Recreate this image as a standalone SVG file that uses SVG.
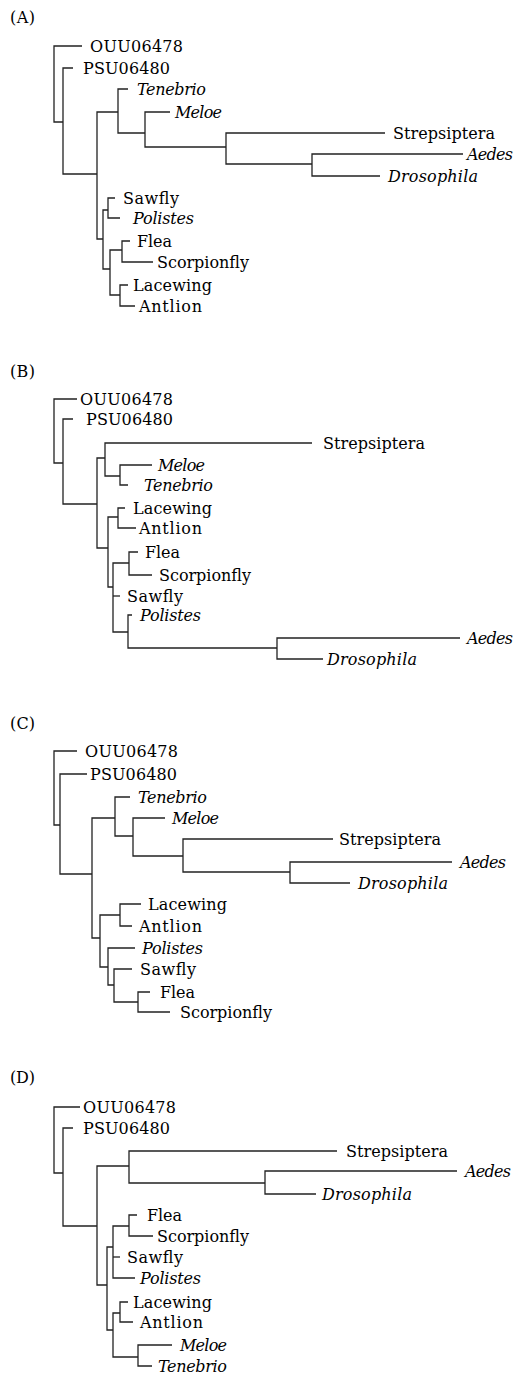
<svg xmlns="http://www.w3.org/2000/svg" width="516" height="1374" viewBox="0 0 516 1374">
<style>
.t{font-family:"DejaVu Serif","Liberation Serif",serif;font-size:16px;fill:#000}
.i{font-style:italic}
.p{font-family:"DejaVu Serif","Liberation Serif",serif;font-size:16px;fill:#000}
.c{fill:none;stroke:#222;stroke-width:1.3}
</style>
<rect width="516" height="1374" fill="#fff"/>

<!-- Panel A -->
<g id="panelA">
<text class="p" x="10" y="23" textLength="25">(A)</text>
<g id="connectorsA" class="c">
<path d="M82,46 H54 V122 H63"/>
<path d="M73,68 H63 V174 H97"/>
<path d="M118,112 H97 V239 H103"/>
<path d="M128,89 H118 V133 H145"/>
<path d="M170,112 H145 V147 H226"/>
<path d="M385,133 H226 V164 H312"/>
<path d="M463,154 H312 V176 H380"/>
<path d="M108,210 H103 V269 H110"/>
<path d="M115,198 H108 V218 H120"/>
<path d="M122,250 H110 V295 H120"/>
<path d="M130,241 H122 V262 H153"/>
<path d="M128,285 H120 V306 H135"/>
</g>
<g id="A_OUU06478"><text class="t" x="90" y="52" textLength="93">OUU06478</text></g>
<g id="A_PSU06480"><text class="t" x="83" y="74" textLength="87">PSU06480</text></g>
<g id="A_Tenebrio"><text class="t i" x="137" y="95" textLength="69">Tenebrio</text></g>
<g id="A_Meloe"><text class="t i" x="175" y="118" textLength="47">Meloe</text></g>
<g id="A_Strepsiptera"><text class="t" x="393" y="139" textLength="102">Strepsiptera</text></g>
<g id="A_Aedes"><text class="t i" x="467" y="160" textLength="46">Aedes</text></g>
<g id="A_Drosophila"><text class="t i" x="388" y="182" textLength="90">Drosophila</text></g>
<g id="A_Sawfly"><text class="t" x="123" y="204" textLength="56">Sawfly</text></g>
<g id="A_Polistes"><text class="t i" x="133" y="224" textLength="61">Polistes</text></g>
<g id="A_Flea"><text class="t" x="137" y="247" textLength="35">Flea</text></g>
<g id="A_Scorpionfly"><text class="t" x="157" y="268" textLength="92">Scorpionfly</text></g>
<g id="A_Lacewing"><text class="t" x="133" y="291" textLength="79">Lacewing</text></g>
<g id="A_Antlion"><text class="t" x="139" y="312" textLength="63">Antlion</text></g>
</g>

<!-- Panel B -->
<g id="panelB">
<text class="p" x="10" y="377" textLength="25">(B)</text>
<g id="connectorsB" class="c">
<path d="M77,399 H54 V463 H63"/>
<path d="M73,419 H63 V504 H97"/>
<path d="M105,458 H97 V548 H108"/>
<path d="M312,443 H105 V476 H120"/>
<path d="M152,465 H120 V485 H128"/>
<path d="M118,517 H108 V587 H113"/>
<path d="M125,508 H118 V528 H136"/>
<path d="M129,563 H113 V632 H128"/>
<path d="M113,596 H120"/>
<path d="M138,552 H129 V575 H152"/>
<path d="M132,615 H128 V648 H277"/>
<path d="M460,638 H277 V659 H323"/>
</g>
<g id="B_OUU06478"><text class="t" x="80" y="405" textLength="93">OUU06478</text></g>
<g id="B_PSU06480"><text class="t" x="86" y="425" textLength="87">PSU06480</text></g>
<g id="B_Strepsiptera"><text class="t" x="323" y="449" textLength="102">Strepsiptera</text></g>
<g id="B_Meloe"><text class="t i" x="158" y="471" textLength="47">Meloe</text></g>
<g id="B_Tenebrio"><text class="t i" x="144" y="491" textLength="69">Tenebrio</text></g>
<g id="B_Lacewing"><text class="t" x="133" y="514" textLength="79">Lacewing</text></g>
<g id="B_Antlion"><text class="t" x="139" y="534" textLength="63">Antlion</text></g>
<g id="B_Flea"><text class="t" x="145" y="558" textLength="35">Flea</text></g>
<g id="B_Scorpionfly"><text class="t" x="159" y="581" textLength="92">Scorpionfly</text></g>
<g id="B_Sawfly"><text class="t" x="127" y="602" textLength="56">Sawfly</text></g>
<g id="B_Polistes"><text class="t i" x="140" y="621" textLength="61">Polistes</text></g>
<g id="B_Aedes"><text class="t i" x="467" y="644" textLength="46">Aedes</text></g>
<g id="B_Drosophila"><text class="t i" x="327" y="665" textLength="90">Drosophila</text></g>
</g>

<!-- Panel C -->
<g id="panelC">
<text class="p" x="10" y="729" textLength="25">(C)</text>
<g id="connectorsC" class="c">
<path d="M77,751 H54 V825 H60"/>
<path d="M87,774 H60 V874 H92"/>
<path d="M115,818 H92 V938 H100"/>
<path d="M130,797 H115 V836 H133"/>
<path d="M165,818 H133 V856 H183"/>
<path d="M333,839 H183 V872 H290"/>
<path d="M452,862 H290 V883 H350"/>
<path d="M120,915 H100 V967 H108"/>
<path d="M141,904 H120 V926 H132"/>
<path d="M135,948 H108 V985 H114"/>
<path d="M132,969 H114 V1002 H138"/>
<path d="M150,992 H138 V1012 H170"/>
</g>
<g id="C_OUU06478"><text class="t" x="85" y="757" textLength="93">OUU06478</text></g>
<g id="C_PSU06480"><text class="t" x="90" y="780" textLength="87">PSU06480</text></g>
<g id="C_Tenebrio"><text class="t i" x="138" y="803" textLength="69">Tenebrio</text></g>
<g id="C_Meloe"><text class="t i" x="172" y="824" textLength="47">Meloe</text></g>
<g id="C_Strepsiptera"><text class="t" x="339" y="845" textLength="102">Strepsiptera</text></g>
<g id="C_Aedes"><text class="t i" x="460" y="868" textLength="46">Aedes</text></g>
<g id="C_Drosophila"><text class="t i" x="358" y="889" textLength="90">Drosophila</text></g>
<g id="C_Lacewing"><text class="t" x="148" y="910" textLength="79">Lacewing</text></g>
<g id="C_Antlion"><text class="t" x="139" y="932" textLength="63">Antlion</text></g>
<g id="C_Polistes"><text class="t i" x="142" y="954" textLength="61">Polistes</text></g>
<g id="C_Sawfly"><text class="t" x="140" y="975" textLength="56">Sawfly</text></g>
<g id="C_Flea"><text class="t" x="160" y="998" textLength="35">Flea</text></g>
<g id="C_Scorpionfly"><text class="t" x="180" y="1018" textLength="92">Scorpionfly</text></g>
</g>

<!-- Panel D -->
<g id="panelD">
<text class="p" x="10" y="1083" textLength="25">(D)</text>
<g id="connectorsD" class="c">
<path d="M80,1107 H54 V1173 H63"/>
<path d="M73,1128 H63 V1226 H97"/>
<path d="M129,1166 H97 V1285 H107"/>
<path d="M337,1151 H129 V1183 H265"/>
<path d="M457,1171 H265 V1194 H316"/>
<path d="M113,1247 H107 V1330 H113"/>
<path d="M129,1226 H113 V1278 H135"/>
<path d="M113,1257 H120"/>
<path d="M137,1215 H129 V1236 H153"/>
<path d="M120,1313 H113 V1357 H138"/>
<path d="M128,1302 H120 V1322 H133"/>
<path d="M172,1345 H138 V1366 H152"/>
</g>
<g id="D_OUU06478"><text class="t" x="83" y="1113" textLength="93">OUU06478</text></g>
<g id="D_PSU06480"><text class="t" x="83" y="1134" textLength="87">PSU06480</text></g>
<g id="D_Strepsiptera"><text class="t" x="346" y="1157" textLength="102">Strepsiptera</text></g>
<g id="D_Aedes"><text class="t i" x="465" y="1177" textLength="46">Aedes</text></g>
<g id="D_Drosophila"><text class="t i" x="322" y="1200" textLength="90">Drosophila</text></g>
<g id="D_Flea"><text class="t" x="147" y="1221" textLength="35">Flea</text></g>
<g id="D_Scorpionfly"><text class="t" x="157" y="1242" textLength="92">Scorpionfly</text></g>
<g id="D_Sawfly"><text class="t" x="127" y="1263" textLength="56">Sawfly</text></g>
<g id="D_Polistes"><text class="t i" x="140" y="1284" textLength="61">Polistes</text></g>
<g id="D_Lacewing"><text class="t" x="133" y="1308" textLength="79">Lacewing</text></g>
<g id="D_Antlion"><text class="t" x="140" y="1328" textLength="63">Antlion</text></g>
<g id="D_Meloe"><text class="t i" x="180" y="1351" textLength="47">Meloe</text></g>
<g id="D_Tenebrio"><text class="t i" x="158" y="1372" textLength="69">Tenebrio</text></g>
</g>
</svg>
